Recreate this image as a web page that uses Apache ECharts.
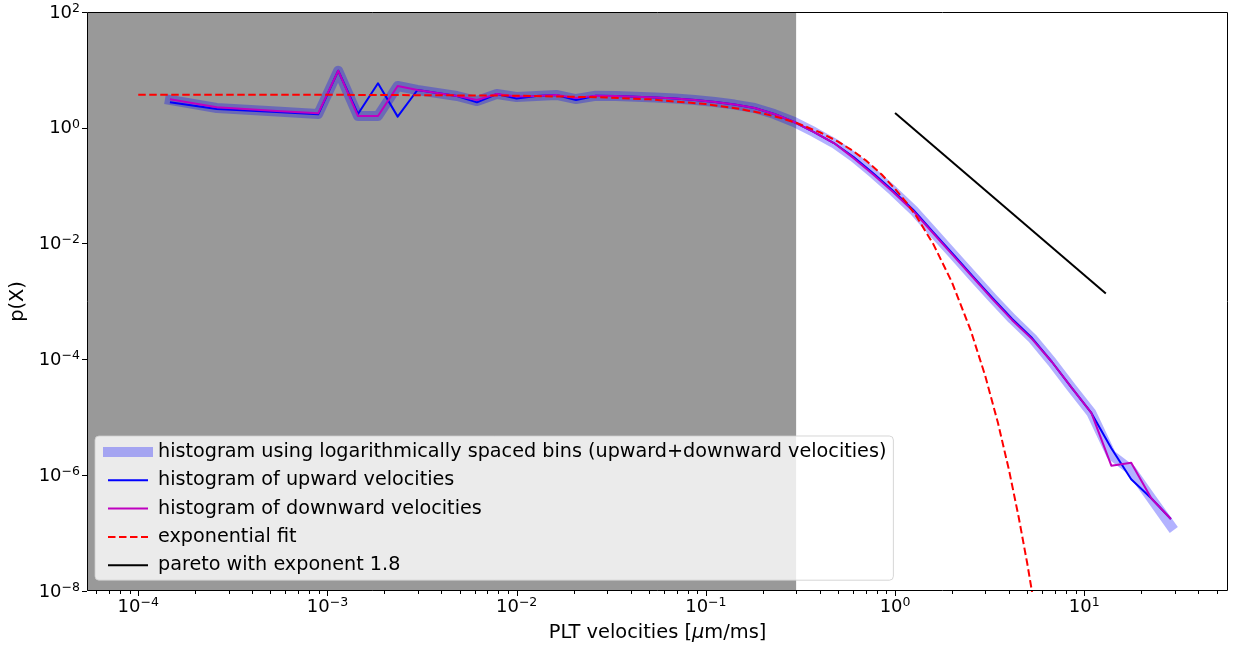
<!DOCTYPE html>
<html>
<head>
<meta charset="utf-8">
<script src="https://cdn.jsdelivr.net/npm/echarts@6/dist/echarts.min.js"></script>
<style>
  html, body { margin: 0; padding: 0; background: #ffffff; }
  #chart { width: 1233px; height: 648px; }
</style>
</head>
<body>
<div id="chart"></div>
<script>
// ---- data -------------------------------------------------------------
// velocity bin centres [µm/ms]
const binX = [1.47e-4, 2.60e-4, 5.39e-4, 8.94e-4, 1.14e-3, 1.45e-3, 1.85e-3, 2.35e-3, 2.99e-3, 3.80e-3,
              4.84e-3, 6.17e-3, 7.85e-3, 9.99e-3, 1.27e-2, 1.62e-2, 2.06e-2, 2.62e-2, 3.34e-2, 4.25e-2,
              5.41e-2, 6.88e-2, 8.77e-2, 0.112, 0.142, 0.181, 0.230, 0.293, 0.373, 0.475,
              0.604, 0.769, 0.979, 1.25, 1.59, 2.02, 2.57, 3.27, 4.16, 5.30,
              6.75, 8.59, 10.9, 13.9, 17.7, 22.6, 28.7];
// density, upward + downward velocities together
const pAll = [3.02, 2.20, 1.91, 1.73, 9.68, 1.60, 1.60, 5.27, 4.50, 3.99,
              3.54, 2.90, 3.84, 3.40, 3.54, 3.69, 3.14, 3.58, 3.54, 3.44,
              3.33, 3.21, 3.02, 2.79, 2.52, 2.20, 1.73, 1.26, 0.845, 0.546,
              0.313, 0.163, 0.0809, 0.0380, 0.0158, 6.61e-3, 2.75e-3, 1.15e-3, 4.99e-4, 2.34e-4,
              9.02e-5, 3.21e-5, 1.19e-5, 2.23e-6, 1.23e-6, 3.99e-7, 1.33e-7];
// density, upward velocities
const pUp = [2.75, 2.11, 1.88, 1.71, 9.68, 1.73, 5.87, 1.56, 4.50, 3.99,
             3.54, 2.75, 3.84, 3.21, 3.54, 3.69, 3.02, 3.58, 3.54, 3.44,
             3.33, 3.21, 3.02, 2.79, 2.52, 2.20, 1.73, 1.26, 0.845, 0.546,
             0.313, 0.163, 0.0809, 0.0380, 0.0158, 6.61e-3, 2.75e-3, 1.15e-3, 4.99e-4, 2.34e-4,
             9.02e-5, 3.21e-5, 1.19e-5, 2.92e-6, 8.49e-7, 3.99e-7, 1.75e-7];
// density, downward velocities
const pDown = [3.10, 2.26, 1.95, 1.78, 9.68, 1.60, 1.60, 5.27, 4.50, 3.99,
               3.54, 3.02, 3.84, 3.48, 3.54, 3.69, 3.27, 3.58, 3.54, 3.44,
               3.33, 3.21, 3.02, 2.79, 2.52, 2.20, 1.73, 1.26, 0.845, 0.546,
               0.299, 0.155, 0.0773, 0.0363, 0.0151, 6.31e-3, 2.63e-3, 1.10e-3, 4.76e-4, 2.24e-4,
               9.02e-5, 3.21e-5, 1.19e-5, 1.46e-6, 1.64e-6, 3.99e-7, 1.75e-7];
// exponential fit, sampled
const expX = [1e-4, 1e-3, 1e-2, 0.03, 0.05, 0.1, 0.15, 0.2, 0.25, 0.3, 0.4, 0.5, 0.6, 0.7, 0.85,
              1.0, 1.15, 1.3, 1.6, 2.0, 2.5, 3.0, 3.5, 4.0, 4.5, 5.0, 5.5];
const expY = [3.73, 3.72, 3.59, 3.34, 3.10, 2.57, 2.13, 1.77, 1.47, 1.22, 0.838, 0.577, 0.398, 0.274, 0.156,
              0.0877, 0.0511, 0.0292, 9.52e-3, 2.14e-3, 3.31e-4, 5.13e-5, 7.94e-6, 1.23e-6, 1.9e-7, 2.95e-8, 4.6e-9];
// pareto reference line (exponent 1.8)
const paretoX = [1.0, 13.0];
const paretoY = [1.8, 1.37e-3];
// upper edge of the shaded low-velocity band
const shadeEnd = 0.3;

const seriesNames = [
  'histogram using logarithmically spaced bins (upward+downward velocities)',
  'histogram of upward velocities',
  'histogram of downward velocities',
  'exponential fit',
  'pareto with exponent 1.8'
];
// axis ranges and tick labels (decade exponents)
const xRange = [5.36e-5, 57.5];
const yRange = [1e-8, 1e2];
const xTickExps = [-4, -3, -2, -1, 0, 1];
const yTickExps = [-8, -6, -4, -2, 0, 2];
const minorMultipliers = [2, 3, 4, 5, 6, 7, 8, 9];

// ---- helpers ----------------------------------------------------------
const FONT = 'DejaVu Sans';
const BAND_WIDTH = 10;
const pairs = (xs, ys) => xs.map((x, i) => [x, ys[i]]);
const expLabel = (exps) => (v) => {
  const e = Math.round(Math.log10(v));
  if (Math.abs(Math.log10(v) - e) > 1e-6 || exps.indexOf(e) < 0) return '';
  return '{b|10}{s|' + String(e).replace('-', '\u2212') + '}';
};
const labelRich = {
  b: { fontSize: 18, fontFamily: FONT, color: '#000', lineHeight: 20, verticalAlign: 'bottom' },
  s: { fontSize: 12.5, fontFamily: FONT, color: '#000', verticalAlign: 'top' }
};

const majorX = xTickExps.map(e => Math.pow(10, e));
const minorX = [];
for (let e = -5; e <= 1; e++) {
  minorMultipliers.forEach(m => {
    const v = m * Math.pow(10, e);
    if (v > xRange[0] && v < xRange[1]) minorX.push(v);
  });
}

function tickSeries(values, len) {
  return {
    type: 'custom', silent: true, clip: false, z: 10,
    data: values.map(v => [v, 1]),
    renderItem: (params, api) => {
      const x = Math.round(api.coord([api.value(0), 1])[0]) + 0.5;
      const y0 = params.coordSys.y + params.coordSys.height;
      return { type: 'line', shape: { x1: x, y1: y0, x2: x, y2: y0 + len },
               style: { stroke: '#000', lineWidth: 1 } };
    }
  };
}

function lineSeries(name, data, color, width, extra) {
  return Object.assign({
    name, type: 'line', data, symbol: 'none', showSymbol: false, silent: true,
    itemStyle: { color },
    lineStyle: { color, width, join: 'round' },
    emphasis: { disabled: true }
  }, extra || {});
}

// legend entries; the combined histogram keeps its thick band handle
const legendData = seriesNames.map((name, i) =>
  i === 0 ? { name, lineStyle: { width: BAND_WIDTH, cap: 'square' } } : { name });

// ---- chart ------------------------------------------------------------
const chart = echarts.init(document.getElementById('chart'), null, { renderer: 'canvas' });
chart.setOption({
  animation: false,
  textStyle: { fontFamily: FONT },
  grid: { left: 87, top: 12, width: 1141, height: 579, show: false, containLabel: false, outerBoundsMode: 'none' },
  xAxis: {
    type: 'log', logBase: 10, min: xRange[0], max: xRange[1],
    axisLine: { show: false }, axisTick: { show: false }, splitLine: { show: false },
    axisLabel: { formatter: expLabel(xTickExps), rich: labelRich, margin: 5, showMinLabel: false, showMaxLabel: false },
    name: 'PLT velocities [{i|\u03bc}m/ms]', nameLocation: 'middle', nameGap: 32,
    nameTextStyle: { fontSize: 19.4, color: '#000', fontFamily: FONT,
      rich: { i: { fontSize: 19.4, fontStyle: 'italic', color: '#000', fontFamily: FONT } } }
  },
  yAxis: {
    type: 'log', logBase: 10, min: yRange[0], max: yRange[1], interval: 2,
    axisLine: { show: false },
    axisTick: { show: true, length: 5, lineStyle: { color: '#000', width: 1 } },
    splitLine: { show: false },
    axisLabel: { formatter: expLabel(yTickExps), rich: labelRich, margin: 7 },
    name: 'p(X)', nameLocation: 'middle', nameGap: 57,
    nameTextStyle: { fontSize: 19.4, color: '#000', fontFamily: FONT }
  },
  legend: {
    data: legendData, orient: 'vertical', left: 95, top: 436,
    itemWidth: 40, itemHeight: 10, itemGap: 9.3, padding: [6.5, 7, 5.5, 8],
    backgroundColor: 'rgba(255,255,255,0.8)', borderColor: 'rgba(204,204,204,0.8)',
    borderWidth: 1, borderRadius: 4, selectedMode: false,
    itemStyle: { opacity: 0 },
    textStyle: { fontSize: 19.2, color: '#000', fontFamily: FONT, padding: [0, 0, 0, 5] }
  },
  graphic: [{
    type: 'rect', silent: true, z: 100,
    shape: { x: 87.5, y: 12.5, width: 1140, height: 578 },
    style: { fill: 'none', stroke: '#000', lineWidth: 1 }
  }],
  series: [
    {
      type: 'custom', silent: true, z: 1, data: [[shadeEnd, 1]],
      renderItem: (params, api) => {
        const cs = params.coordSys;
        const xe = api.coord([api.value(0), 1])[0];
        return { type: 'rect', shape: { x: cs.x, y: cs.y, width: xe - cs.x, height: cs.height },
                 style: { fill: '#999999' } };
      }
    },
    lineSeries(seriesNames[0], pairs(binX, pAll), 'rgba(0,0,255,0.3)', BAND_WIDTH,
               { z: 2, lineStyle: { color: 'rgba(0,0,255,0.3)', width: BAND_WIDTH, join: 'round', cap: 'square' } }),
    lineSeries(seriesNames[1], pairs(binX, pUp), '#0000ff', 2, { z: 3 }),
    lineSeries(seriesNames[2], pairs(binX, pDown), '#bf00bf', 2, { z: 4 }),
    lineSeries(seriesNames[3], pairs(expX, expY), '#ff0000', 2,
               { z: 5, lineStyle: { color: '#ff0000', width: 2, type: [7.5, 3.5], join: 'round' } }),
    lineSeries(seriesNames[4], pairs(paretoX, paretoY), '#000000', 2, { z: 6 }),
    tickSeries(majorX, 5),
    tickSeries(minorX, 3)
  ]
});
</script>
</body>
</html>
